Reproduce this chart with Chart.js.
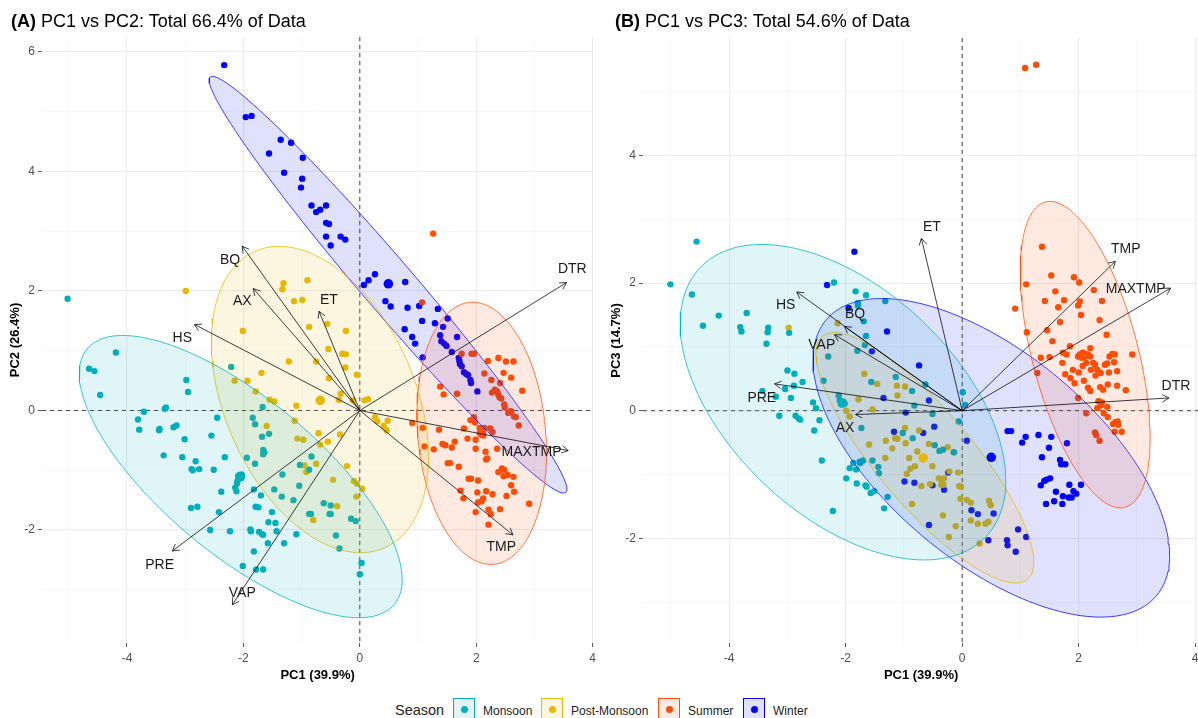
<!DOCTYPE html>
<html><head><meta charset="utf-8">
<script src="https://cdn.jsdelivr.net/npm/chart.js@4.4.0/dist/chart.umd.min.js"></script>
<style>
html,body{margin:0;padding:0;background:#fff;}
body{width:1198px;height:718px;overflow:hidden;position:relative;font-family:"Liberation Sans",Arial,sans-serif;}
canvas{position:absolute;top:0;}
#cA{left:0;}
#cB{left:600px;}
.ptitle{position:absolute;top:11px;font-size:18px;line-height:20px;color:#000;white-space:nowrap;}
.lg{position:absolute;white-space:nowrap;color:#222;}
.key{position:absolute;top:698px;width:20px;height:20px;border:1px solid;}
.key i{position:absolute;left:6.5px;top:6.5px;width:7px;height:7px;border-radius:50%;}
</style></head>
<body>
<canvas id="cA" width="600" height="683"></canvas>
<canvas id="cB" width="604" height="683"></canvas>
<div class="ptitle" style="left:11px"><b>(A)</b> PC1 vs PC2: Total 66.4% of Data</div>
<div class="ptitle" style="left:615px"><b>(B)</b> PC1 vs PC3: Total 54.6% of Data</div>
<div id="legend"></div>
<script>
// ---------------- data ----------------
const seasons = ['Monsoon','Post-Monsoon','Summer','Winter'];
const variables = ['DTR','MAXTMP','TMP','VAP','PRE','HS','BQ','AX','ET'];
// loading arrow tips
const loadPC1 = [3.55,3.58,2.63,-2.19,-3.22,-2.84,-2.02,-1.83,-0.70];
const loadPC2 = [2.14,-0.67,-2.08,-3.25,-2.35,1.44,2.75,2.04,1.66];
const loadPC3 = [0.20,1.92,2.34,1.19,0.42,1.86,1.32,-0.06,2.70];
// variable label anchors
const labelA_x = [3.65,2.95,2.43,-2.02,-3.44,-3.05,-2.23,-2.02,-0.53];
const labelA_y = [2.36,-0.69,-2.29,-3.05,-2.58,1.21,2.51,1.83,1.84];
const labelB_x = [3.67,2.98,2.81,-2.41,-3.44,-3.03,-1.84,-2.01,-0.52];
const labelB_y = [0.38,1.90,2.53,1.02,0.20,1.66,1.51,-0.27,2.87];

// scores, panel A (PC1, PC2)
const monsoonA = [[-5.02,1.87],[-4.19,0.97],[-4.65,0.70],[-4.56,0.66],[-4.46,0.26],[-2.98,0.51],[-2.95,0.31],[-2.21,0.73],[-3.71,-0.02],[-3.81,-0.15],[-3.79,-0.32],[-3.35,0.03],[-3.33,0.05],[-3.20,-0.28],[-3.15,-0.25],[-3.45,-0.33],[-3.44,-0.31],[-3.01,-0.48],[-2.45,-0.12],[-2.55,-0.42],[-3.37,-0.75],[-3.05,-0.78],[-2.82,-0.85],[-2.89,-0.98],[-2.87,-1.00],[-2.76,-0.98],[-2.51,-0.99],[-2.32,-0.78],[-1.67,0.06],[-1.84,-0.12],[-1.80,-0.23],[-1.68,-0.44],[-1.56,-0.39],[-1.66,-0.66],[-1.64,-0.70],[-1.66,-0.73],[-1.94,-0.79],[-1.80,-0.89],[-2.07,-1.08],[-2.03,-1.07],[-2.09,-1.10],[-2.10,-1.18],[-2.11,-1.22],[-2.14,-1.29],[-2.12,-1.35],[-2.38,-1.36],[-1.82,-1.32],[-1.70,-1.42],[-1.47,-1.32],[-1.33,-1.07],[-1.34,-1.44],[-1.14,-1.50],[-1.03,-0.91],[-1.04,-1.26],[-0.87,-0.99],[-0.83,-0.77],[-0.62,-1.55],[-0.50,-1.59],[-0.52,-1.73],[-0.50,-1.73],[-0.87,-1.73],[-0.84,-1.73],[-0.15,-1.81],[-0.07,-1.85],[-0.41,-2.09],[-0.35,-2.31],[0.03,-2.55],[0.00,-2.74],[-2.90,-1.63],[-2.79,-1.61],[-2.42,-1.70],[-1.79,-1.61],[-1.74,-1.62],[-1.51,-1.70],[-2.57,-2.00],[-2.23,-2.02],[-1.88,-1.99],[-1.87,-2.02],[-1.73,-2.03],[-1.68,-2.07],[-1.66,-2.08],[-1.57,-1.87],[-1.45,-1.88],[-1.43,-2.02],[-1.09,-2.07],[-1.58,-2.22],[-1.30,-2.22],[-1.82,-2.36],[-2.01,-2.60],[-1.78,-2.66],[-1.66,-2.66]];
const postMonsoonA = [[-2.99,2.00],[-1.31,2.13],[-0.90,2.18],[-1.33,2.03],[-1.13,1.83],[-0.99,1.85],[-2.01,1.33],[-0.87,1.40],[-0.56,1.45],[-0.24,1.33],[-0.54,1.03],[-0.30,0.95],[-0.24,0.94],[-1.22,0.82],[-0.75,0.82],[-1.69,0.63],[-0.25,0.72],[-0.05,0.60],[-2.15,0.50],[-1.93,0.50],[-0.53,0.54],[-1.79,0.32],[-1.55,0.18],[-1.47,0.15],[-1.09,0.08],[-0.33,0.28],[-0.36,0.18],[-0.12,0.17],[0.08,0.17],[0.14,0.19],[0.26,-0.11],[0.30,-0.18],[0.48,-0.17],[0.41,-0.26],[0.46,-0.33],[-1.12,-0.17],[-1.60,-0.26],[-0.71,-0.38],[-0.34,-0.40],[-1.07,-0.47],[-0.97,-0.49],[-0.68,-0.57],[-0.55,-0.52],[-0.95,-0.92],[-0.75,-0.89],[-0.92,-1.03],[-0.22,-0.93],[-0.46,-1.16],[-0.10,-1.18],[-0.05,-1.22],[0.04,-1.31],[-0.06,-1.44],[-0.80,-1.83],[-0.39,-1.60]];
const summerA = [[1.26,2.96],[1.07,1.81],[1.75,0.95],[1.92,0.95],[1.96,0.95],[2.38,0.88],[2.20,0.83],[2.51,0.82],[2.64,0.82],[2.14,0.62],[2.47,0.63],[2.60,0.55],[2.26,0.51],[2.41,0.46],[2.32,0.35],[2.36,0.32],[2.38,0.26],[2.40,0.22],[2.43,0.20],[2.79,0.33],[2.27,0.30],[1.38,0.40],[1.44,0.27],[1.67,0.28],[2.48,0.10],[2.49,0.05],[2.60,-0.02],[2.65,-0.10],[2.68,-0.11],[2.55,-0.04],[2.59,-0.01],[2.73,-0.25],[1.90,-0.16],[1.96,-0.11],[1.98,-0.20],[0.90,-0.21],[1.08,-0.29],[1.36,-0.32],[2.06,-0.29],[2.14,-0.29],[2.24,-0.30],[2.08,-0.37],[2.12,-0.42],[2.28,-0.36],[1.79,-0.30],[1.85,-0.47],[1.99,-0.49],[2.36,-0.64],[1.11,-0.60],[1.27,-0.65],[1.42,-0.56],[1.47,-0.58],[1.63,-0.52],[1.58,-0.62],[1.99,-0.64],[2.16,-0.69],[2.19,-0.80],[2.17,-0.82],[1.51,-0.88],[1.55,-0.88],[1.70,-0.94],[2.44,-0.97],[2.38,-1.03],[2.48,-0.99],[2.54,-1.08],[2.64,-1.11],[2.47,-1.10],[1.87,-1.14],[1.91,-1.14],[2.03,-1.17],[2.60,-1.25],[2.65,-1.36],[1.73,-1.34],[1.78,-1.47],[2.02,-1.37],[2.12,-1.47],[2.09,-1.52],[2.17,-1.35],[2.28,-1.40],[2.03,-1.54],[2.52,-1.43],[2.41,-1.65],[2.91,-1.56],[2.21,-1.66],[2.25,-1.73],[1.99,-1.70],[2.21,-1.91]];
const winterA = [[-2.33,5.78],[-1.96,4.91],[-1.86,4.93],[-1.36,4.53],[-1.18,4.48],[-1.56,4.30],[-0.98,4.23],[-1.30,3.98],[-0.99,3.88],[-1.01,3.73],[-0.83,3.43],[-0.75,3.32],[-0.68,3.36],[-0.58,3.43],[-0.58,3.14],[-0.53,3.12],[-0.58,2.91],[-0.50,2.76],[-0.33,2.91],[-0.25,2.86],[0.07,2.10],[0.15,2.18],[0.26,2.28],[0.44,1.83],[0.53,1.74],[0.78,2.15],[0.82,1.72],[1.02,1.75],[1.07,1.50],[1.29,1.46],[1.34,1.70],[1.51,1.54],[1.43,1.40],[0.77,1.36],[0.90,1.23],[0.95,1.12],[1.38,1.26],[1.67,1.23],[1.40,1.16],[1.45,1.12],[1.49,1.08],[1.58,0.98],[1.70,0.88],[1.08,0.89],[1.71,0.83],[1.72,0.78],[1.75,0.74],[1.79,0.64],[1.83,0.61],[1.86,0.59],[1.90,0.51],[1.91,0.46],[2.02,0.32]];
const meansA = [[-2.05,-1.11],[-0.68,0.17],[2.09,-0.38],[0.49,2.12]];

// scores, panel B (PC1, PC3)
const monsoonB = [[-4.56,2.65],[-5.01,1.98],[-4.64,1.82],[-4.45,1.33],[-4.18,1.49],[-3.70,1.53],[-3.81,1.31],[-3.79,1.24],[-3.33,1.30],[-3.34,1.23],[-2.97,1.22],[-3.36,1.05],[-2.20,2.01],[-1.83,1.87],[-1.65,1.81],[-1.79,1.69],[-1.79,1.65],[-1.32,1.72],[-1.69,1.40],[-1.65,1.17],[-1.80,0.94],[-1.67,1.03],[-2.30,0.85],[-3.00,0.63],[-2.88,0.58],[-2.74,0.45],[-2.89,0.39],[-3.43,0.31],[-3.04,0.34],[-3.20,0.22],[-2.94,0.20],[-2.38,0.47],[-2.12,0.24],[-2.10,0.16],[-2.05,0.13],[-2.02,0.11],[-2.08,0.10],[-2.56,0.13],[-2.51,0.04],[-3.14,-0.08],[-2.86,-0.08],[-2.81,-0.12],[-2.78,-0.14],[-2.45,-0.15],[-2.54,-0.31],[-1.73,-0.27],[-1.56,0.45],[-1.14,0.53],[-2.41,-0.78],[-1.93,-0.90],[-1.87,-0.82],[-1.82,-0.92],[-1.76,-0.80],[-1.70,-0.78],[-1.75,-0.82],[-1.99,-1.06],[-1.54,-0.78],[-1.44,-0.88],[-1.43,-0.98],[-1.81,-1.14],[-1.66,-1.17],[-1.64,-1.19],[-1.51,-1.26],[-1.57,-1.29],[-1.28,-1.35],[-1.34,-1.53],[-2.22,-1.57],[-0.86,0.31],[-0.63,0.41],[-0.82,0.08],[-0.85,-0.43],[-1.02,-0.35],[-0.47,-0.54],[-0.39,-0.63],[-0.33,-0.61],[-0.14,-0.65],[0.01,0.29],[0.05,0.09],[-0.06,-0.17],[-0.51,-0.05]];
const postMonsoonB = [[-2.98,1.30],[-2.14,1.37],[-1.68,0.58],[-1.46,0.42],[-1.12,0.39],[-1.11,0.24],[-1.78,0.18],[-1.99,0.00],[-1.93,-0.09],[-1.54,0.02],[-1.31,-0.47],[-1.20,-0.59],[-1.15,-0.43],[-1.11,-0.44],[-1.60,-0.53],[-1.32,-0.74],[-0.98,0.38],[-0.98,-0.27],[-0.74,-0.31],[-0.97,-0.51],[-0.77,-0.64],[-0.57,-0.52],[-0.91,-0.74],[-0.51,-0.87],[-0.81,-0.87],[-0.89,-0.91],[-0.95,-0.99],[-0.70,-1.18],[-0.55,-1.15],[-0.40,-1.06],[-0.35,-1.09],[-0.31,-1.06],[-0.32,-1.16],[-0.36,-1.16],[-0.22,-0.95],[-0.07,-0.97],[-0.25,-0.57],[-0.15,-0.65],[-0.05,-1.18],[-0.02,-1.19],[-0.03,-1.38],[0.08,-1.40],[0.15,-1.44],[-0.86,-1.46],[-0.33,-1.64],[0.46,-1.41],[0.49,-1.48],[0.15,-1.72],[0.27,-1.77],[0.40,-1.77],[0.45,-1.74],[-0.11,-1.81],[-0.23,-1.98],[0.30,-2.08]];
const summerB = [[1.08,5.37],[1.27,5.42],[1.37,2.57],[1.53,2.12],[1.92,2.09],[2.01,2.01],[1.10,1.98],[1.60,1.87],[2.26,1.89],[1.42,1.72],[1.75,1.73],[2.02,1.71],[1.99,1.65],[2.40,1.72],[1.65,1.62],[0.91,1.60],[2.04,1.50],[2.36,1.42],[1.68,1.39],[1.46,1.26],[1.11,1.23],[2.48,1.19],[1.55,1.09],[1.73,0.91],[1.85,1.01],[1.79,0.88],[1.35,0.83],[1.50,0.84],[1.72,0.75],[1.99,0.85],[2.02,0.88],[2.05,0.83],[2.07,0.91],[2.11,0.85],[2.13,0.75],[2.16,0.88],[2.20,0.98],[2.20,0.85],[2.25,0.75],[2.28,0.72],[2.58,0.89],[2.53,0.85],[2.62,0.88],[2.49,0.74],[2.45,0.72],[2.61,0.76],[2.92,0.88],[1.29,0.59],[1.77,0.57],[1.90,0.64],[2.00,0.60],[2.07,0.70],[2.09,0.47],[1.86,0.51],[1.93,0.43],[2.21,0.64],[2.32,0.64],[2.29,0.55],[2.38,0.59],[2.52,0.60],[2.66,0.62],[2.16,0.36],[2.20,0.31],[2.37,0.37],[2.42,0.33],[2.50,0.41],[2.66,0.39],[2.81,0.32],[1.99,0.20],[2.13,-0.04],[2.32,0.04],[2.38,0.08],[2.40,0.13],[2.34,0.15],[2.49,0.06],[2.43,-0.04],[2.50,-0.10],[2.59,-0.21],[2.63,-0.18],[2.67,-0.17],[2.68,-0.22],[2.62,-0.33],[2.74,-0.33],[2.28,-0.34],[2.30,-0.38],[2.36,-0.47]];
const winterB = [[-1.85,2.49],[-2.32,1.97],[-1.95,1.61],[-1.29,1.24],[-1.55,0.93],[-1.35,0.20],[-1.17,-0.33],[-0.74,0.71],[-0.57,0.16],[-0.97,-0.03],[-0.67,-0.35],[-0.48,-0.25],[0.08,-0.47],[-0.99,-1.11],[-0.82,-1.13],[-0.51,-1.17],[-0.31,-1.24],[-0.24,-0.97],[0.16,-1.56],[0.27,-1.62],[0.54,-1.61],[-0.57,-1.79],[0.45,-2.03],[0.77,-2.03],[0.78,-2.11],[0.92,-2.21],[0.96,-1.86],[1.10,-1.98],[0.78,-0.32],[0.84,-0.32],[1.09,-0.41],[1.03,-0.50],[1.31,-0.38],[1.53,-0.41],[1.49,-0.58],[1.80,-0.51],[1.37,-0.73],[1.68,-0.77],[1.70,-0.84],[1.77,-0.84],[1.35,-1.17],[1.41,-1.10],[1.45,-1.08],[1.51,-1.06],[1.84,-1.16],[2.04,-1.16],[1.61,-1.27],[1.91,-1.26],[1.96,-1.30],[1.73,-1.34],[1.83,-1.36],[1.88,-1.36],[1.58,-1.42],[1.72,-1.46],[1.44,-1.46]];
const meansB = [[-2.05,0.12],[-0.67,-0.74],[2.10,0.87],[0.50,-0.73]];

// concentration ellipses: centre (x,y), conjugate half-axes a=(ax,ay), b=(bx,by)
const ellipsesA = [[-2.046,-1.106,2.774,-1.725,0,1.613],[-0.685,0.184,1.866,-0.963,0,2.375],[2.094,-0.382,1.113,-0.31,0,2.172],[0.485,2.105,3.055,-3.475,0.337,0.285]];
const ellipsesB = [[-2.046,0.133,2.796,-1.232,0,2.143],[-0.640,-0.738,1.870,-1.633,0,1.088],[2.113,0.879,1.115,-1.303,0,2.017],[0.501,-0.738,3.062,-1.531,0,1.972]];

// ---------------- style ----------------
const FONT = '"Liberation Sans", Arial, sans-serif';
const seasonColors = ['#00AFBB','#E7B800','#FC4E07','#0000FF'];
const seasonFills = ['rgba(0,175,187,0.12)','rgba(231,184,0,0.12)','rgba(252,78,7,0.12)','rgba(0,0,255,0.12)'];
const seasonLines = ['rgba(0,175,187,0.75)','rgba(231,184,0,0.75)','rgba(252,78,7,0.75)','rgba(0,0,255,0.75)'];

function ellipsePts(e){
  const pts=[];
  for(let i=0;i<=144;i++){
    const t=2*Math.PI*i/144;
    pts.push({x:e[0]+Math.cos(t)*e[2]+Math.sin(t)*e[4], y:e[1]+Math.cos(t)*e[3]+Math.sin(t)*e[5]});
  }
  return pts;
}
function buildDatasets(scores, means, ellipses){
  const ds=[];
  seasons.forEach((s,i)=>ds.push({label:s, data:scores[i].map(p=>({x:p[0],y:p[1]})), backgroundColor:seasonColors[i], borderWidth:0, pointRadius:3.2, pointHoverRadius:3.2, order:3}));
  seasons.forEach((s,i)=>ds.push({label:s+' ellipse', data:ellipsePts(ellipses[i]), showLine:true, fill:'shape', backgroundColor:seasonFills[i], borderColor:seasonLines[i], borderWidth:1, pointRadius:0, pointHoverRadius:0, tension:0, order:2}));
  seasons.forEach((s,i)=>ds.push({label:s+' mean', data:[{x:means[i][0],y:means[i][1]}], backgroundColor:seasonColors[i], borderWidth:0, pointRadius:4.8, pointHoverRadius:4.8, order:1}));
  return ds;
}
const isEven = v => Math.abs(Math.round(v)%2)===0 && Math.abs(v-Math.round(v))<1e-9;
function axis(min,max,title,isX){
  return {
    type:'linear', position:isX?'bottom':'left', min, max,
    afterFit(s){ if(isX) s.height=40; else s.width=34; },
    border:{display:false},
    grid:{
      color:c=>(c.tick && isEven(c.tick.value))?'#EBEBEB':'#F3F3F3',
      lineWidth:c=>(c.tick && isEven(c.tick.value))?1.1:0.6,
      drawTicks:true, tickLength:4, tickWidth:1,
      tickColor:c=>(c.tick && isEven(c.tick.value))?'#555555':'rgba(0,0,0,0)'
    },
    ticks:{stepSize:1, includeBounds:false, autoSkip:false, maxRotation:0, padding:isX?4:3, color:'#4D4D4D', font:{family:FONT,size:12}, callback:v=>isEven(v)?String(v):''},
    title:{display:true, text:title, color:'#000', font:{family:FONT,size:13,weight:'bold'}, padding:0}
  };
}
const panelLoads = {
  cA:{tipX:loadPC1, tipY:loadPC2, labX:labelA_x, labY:labelA_y},
  cB:{tipX:loadPC1, tipY:loadPC3, labX:labelB_x, labY:labelB_y}
};
const biplotPlugin = {
  id:'biplot',
  beforeDatasetsDraw(chart){
    const {ctx, chartArea:a, scales:{x,y}} = chart;
    const x0=x.getPixelForValue(0), y0=y.getPixelForValue(0);
    ctx.save();
    ctx.strokeStyle='#444'; ctx.lineWidth=1; ctx.setLineDash([4,4]);
    ctx.beginPath(); ctx.moveTo(a.left,y0); ctx.lineTo(a.right,y0); ctx.moveTo(x0,a.top); ctx.lineTo(x0,a.bottom); ctx.stroke();
    ctx.restore();
  },
  afterDatasetsDraw(chart){
    const L = panelLoads[chart.canvas.id];
    const {ctx, scales:{x,y}} = chart;
    const x0=x.getPixelForValue(0), y0=y.getPixelForValue(0);
    ctx.save();
    ctx.strokeStyle='rgba(0,0,0,0.85)'; ctx.lineWidth=0.9;
    variables.forEach((n,i)=>{
      const tx=x.getPixelForValue(L.tipX[i]), ty=y.getPixelForValue(L.tipY[i]);
      const ang=Math.atan2(ty-y0,tx-x0), len=7.5, h=Math.PI/6;
      ctx.beginPath();
      ctx.moveTo(x0,y0); ctx.lineTo(tx,ty);
      ctx.moveTo(tx-len*Math.cos(ang-h), ty-len*Math.sin(ang-h)); ctx.lineTo(tx,ty); ctx.lineTo(tx-len*Math.cos(ang+h), ty-len*Math.sin(ang+h));
      ctx.stroke();
    });
    ctx.fillStyle='#1a1a1a'; ctx.font='14px '+FONT; ctx.textAlign='center'; ctx.textBaseline='middle';
    variables.forEach((n,i)=>ctx.fillText(n, x.getPixelForValue(L.labX[i]), y.getPixelForValue(L.labY[i])));
    ctx.restore();
  }
};
function makeChart(id, datasets, pad, xr, yr, xTitle, yTitle){
  return new Chart(document.getElementById(id), {
    type:'scatter',
    data:{datasets},
    options:{
      responsive:false, animation:false, events:[],
      layout:{padding:pad},
      plugins:{legend:{display:false}, tooltip:{enabled:false}, title:{display:false}},
      scales:{x:axis(xr[0],xr[1],xTitle,true), y:axis(yr[0],yr[1],yTitle,false)}
    },
    plugins:[biplotPlugin]
  });
}
makeChart('cA', buildDatasets([monsoonA,postMonsoonA,summerA,winterA], meansA, ellipsesA),
  {left:8,right:5,top:37,bottom:0}, [-5.46,4.01], [-3.89,6.25], 'PC1 (39.9%)', 'PC2 (26.4%)');
makeChart('cB', buildDatasets([monsoonB,postMonsoonB,summerB,winterB], meansB, ellipsesB),
  {left:9,right:4,top:38,bottom:0}, [-5.48,4.07], [-3.64,5.84], 'PC1 (39.9%)', 'PC3 (14.7%)');

// ---------------- legend ----------------
const lg = document.getElementById('legend');
const keyLeft = [453,541,658,743], labLeft = [483,571,688,773];
let html = '<div class="lg" style="left:395px;top:702px;font-size:14.5px;line-height:17px;">Season</div>';
seasons.forEach((s,i)=>{
  html += '<div class="key" style="left:'+keyLeft[i]+'px;border-color:'+seasonColors[i]+';background:'+seasonFills[i]+'"><i style="background:'+seasonColors[i]+'"></i></div>';
  html += '<div class="lg" style="left:'+labLeft[i]+'px;top:704px;font-size:12px;line-height:14px;">'+s+'</div>';
});
lg.innerHTML = html;
</script>
</body></html>
